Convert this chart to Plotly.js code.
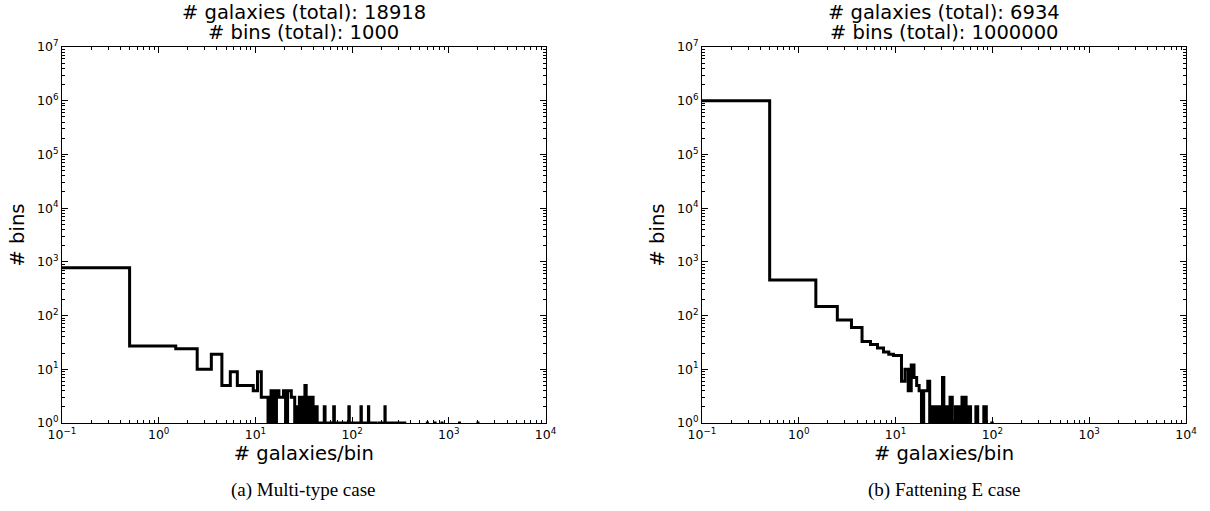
<!DOCTYPE html>
<html>
<head>
<meta charset="utf-8">
<script src="https://cdn.plot.ly/plotly-3.0.1.min.js"></script>
<style>
  html, body { margin: 0; padding: 0; background: #ffffff; }
  #chart { width: 1210px; height: 511px; }
</style>
</head>
<body>
<div id="chart"></div>
<script>
// ---------- DATA ----------
// Panel (a) Multi-type case: galaxies per bin -> number of bins (non-empty entries only)
const multiGalaxiesPerBin = [0, 1, 2, 3, 4, 5, 6, 7, 8, 9, 10, 11, 12, 13,
  15, 17, 18, 19, 20, 22, 23, 24, 25, 27, 29, 31, 33, 35, 37, 39, 41, 43,
  45, 47, 49, 52, 54, 57, 60, 62, 65, 68, 72, 75, 78, 82, 86, 93, 98, 104,
  110, 116, 124, 132, 140, 148, 156, 165, 175, 190, 205, 219, 228, 238, 250,
  262, 275, 290, 310, 330, 350, 600, 720, 850, 1290, 2000];
const multiBinCounts = [780, 27, 24, 10, 19, 5, 9, 5, 5, 5, 4, 9, 3, 3,
  4, 4, 3, 3, 4, 4, 4, 3, 3, 2, 3, 3, 5, 3, 3, 3, 2, 2,
  1, 1, 1, 2, 1, 1, 1, 1, 2, 1, 1, 1, 1, 1, 1, 2, 1, 1,
  1, 1, 2, 1, 1, 2, 1, 1, 1, 1, 1, 2, 1, 1, 1,
  1, 1, 1, 1, 1, 1, 1, 1, 1, 1, 1];

// Panel (b) Fattening E case
const fatGalaxiesPerBin = [0, 1, 2, 3, 4, 5, 6, 7, 8, 9, 10, 11, 12, 13, 14,
  15, 16, 17, 18, 20, 21, 22, 24, 26, 28, 29, 31, 33, 35, 37, 38, 42, 44,
  46, 49, 51, 53, 56, 59, 68, 70, 82, 86, 99];
const fatBinCounts = [999000, 460, 147, 83, 60, 33, 29, 25, 21, 19, 18, 18, 6, 10, 4,
  12, 7, 5, 4, 4, 4, 6, 2, 2, 2, 2, 7, 2, 2, 3, 3, 2, 2,
  2, 3, 3, 3, 2, 2, 2, 2, 2, 2, 1];

const xTickVals = [0.1, 1, 10, 100, 1000, 10000];
const xTickText = ['10<sup>\u22121</sup>', '10<sup>0</sup>', '10<sup>1</sup>', '10<sup>2</sup>', '10<sup>3</sup>', '10<sup>4</sup>'];
const yTickVals = [1, 10, 100, 1000, 10000, 100000, 1000000, 10000000];
const yTickText = ['10<sup>0</sup>', '10<sup>1</sup>', '10<sup>2</sup>', '10<sup>3</sup>', '10<sup>4</sup>', '10<sup>5</sup>', '10<sup>6</sup>', '10<sup>7</sup>'];

const panelTitleLine1 = ['# galaxies (total): 18918', '# galaxies (total): 6934'];
const panelTitleLine2 = ['# bins (total): 1000', '# bins (total): 1000000'];
const panelCaptions = ['(a) Multi-type case', '(b) Fattening E case'];
const xAxisTitle = '# galaxies/bin';
const yAxisTitle = '# bins';

// ---------- DRAWING ----------
const X_RANGE = [-1, 4];
const Y_RANGE = [0, 7];
const FONT = 'DejaVu Sans, Verdana, sans-serif';

// Step outline of an integer-binned histogram (bins centred on integers)
function stepOutline(ks, counts) {
  const m = new Map();
  ks.forEach((k, i) => m.set(k, counts[i]));
  const maxK = Math.max(...ks);
  const xLeft = Math.pow(10, X_RANGE[0] - 0.2);
  const yFloor = Math.pow(10, Y_RANGE[0] - 2);
  const xs = [], ys = [];
  for (let k = 0; k <= maxK + 1; k++) {
    const c = m.get(k) || 0;
    const lo = k === 0 ? xLeft : k - 0.5;
    const hi = k + 0.5;
    const y = c > 0 ? c : yFloor;
    xs.push(lo, hi);
    ys.push(y, y);
  }
  return { xs, ys };
}

function minorVals(lo, hi) {
  const v = [];
  for (let d = lo; d < hi; d++) for (let m = 2; m <= 9; m++) v.push(m * Math.pow(10, d));
  return v;
}

const A = stepOutline(multiGalaxiesPerBin, multiBinCounts);
const B = stepOutline(fatGalaxiesPerBin, fatBinCounts);

const traces = [
  { x: A.xs, y: A.ys, xaxis: 'x', yaxis: 'y', type: 'scatter', mode: 'lines',
    line: { color: '#000000', width: 3, simplify: false }, hoverinfo: 'skip' },
  { x: B.xs, y: B.ys, xaxis: 'x2', yaxis: 'y2', type: 'scatter', mode: 'lines',
    line: { color: '#000000', width: 3, simplify: false }, hoverinfo: 'skip' }
];

const TICKFONT = { family: FONT, size: 12.5, color: '#000' };
const TITLEFONT = { family: FONT, size: 19.5, color: '#000' };

function xAxis(domain, anchor) {
  return {
    domain: domain, anchor: anchor, type: 'log', range: X_RANGE,
    tickmode: 'array', tickvals: xTickVals, ticktext: xTickText,
    ticks: 'inside', ticklen: 6, tickwidth: 1, tickcolor: '#000',
    minor: { ticks: 'inside', ticklen: 3, tickwidth: 1, tickcolor: '#000',
             tickmode: 'array', tickvals: minorVals(X_RANGE[0], X_RANGE[1]), showgrid: false },
    showline: true, linecolor: '#000', linewidth: 1, mirror: 'allticks',
    showgrid: false, zeroline: false,
    tickfont: TICKFONT,
    title: { text: xAxisTitle, font: TITLEFONT, standoff: 0 }
  };
}
function yAxis(domain, anchor) {
  return {
    domain: domain, anchor: anchor, type: 'log', range: Y_RANGE,
    tickmode: 'array', tickvals: yTickVals, ticktext: yTickText,
    ticks: 'inside', ticklen: 6, tickwidth: 1, tickcolor: '#000',
    minor: { ticks: 'inside', ticklen: 3, tickwidth: 1, tickcolor: '#000',
             tickmode: 'array', tickvals: minorVals(Y_RANGE[0], Y_RANGE[1]), showgrid: false },
    showline: true, linecolor: '#000', linewidth: 1, mirror: 'allticks',
    showgrid: false, zeroline: false,
    tickfont: TICKFONT,
    title: { text: yAxisTitle, font: TITLEFONT, standoff: 7 }
  };
}

const domA = [0, 0.4302];
const domB = [0.5694, 1];
const annotations = [];
[domA, domB].forEach((d, i) => {
  const cx = (d[0] + d[1]) / 2;
  annotations.push({
    text: panelTitleLine1[i], xref: 'paper', yref: 'paper', x: cx, y: 1,
    xanchor: 'center', yanchor: 'middle', yshift: 35, showarrow: false,
    font: TITLEFONT
  });
  annotations.push({
    text: panelTitleLine2[i], xref: 'paper', yref: 'paper', x: cx, y: 1,
    xanchor: 'center', yanchor: 'middle', yshift: 15, showarrow: false,
    font: TITLEFONT
  });
  annotations.push({
    text: panelCaptions[i], xref: 'paper', yref: 'paper', x: cx, y: 0,
    xanchor: 'center', yanchor: 'middle', yshift: -67, showarrow: false,
    font: { family: 'Liberation Serif, Times New Roman, serif', size: 19, color: '#000' }
  });
});

const layout = {
  width: 1210, height: 511,
  margin: { l: 62, r: 24, t: 47, b: 88, pad: 0 },
  paper_bgcolor: '#ffffff', plot_bgcolor: '#ffffff',
  showlegend: false,
  xaxis: xAxis(domA, 'y'),
  yaxis: yAxis([0, 1], 'x'),
  xaxis2: xAxis(domB, 'y2'),
  yaxis2: yAxis([0, 1], 'x2'),
  annotations: annotations
};

Plotly.newPlot('chart', traces, layout, { displayModeBar: false, staticPlot: true });
</script>
</body>
</html>
